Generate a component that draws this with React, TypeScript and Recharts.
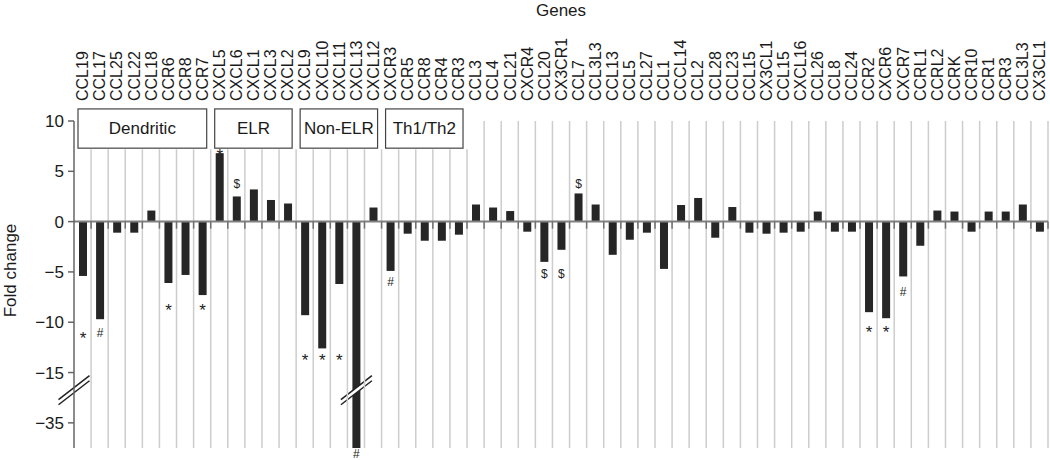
import React from 'react';
import { ComposedChart, Bar, XAxis, YAxis, ReferenceLine, ReferenceArea } from 'recharts';

// ---- data ----
const genes = [
  'CCL19', 'CCL17', 'CCL25', 'CCL22', 'CCL18', 'CCR6', 'CCR8', 'CCR7',
  'CXCL5', 'CXCL6', 'CXCL1', 'CXCL3', 'CXCL2',
  'CXCL9', 'CXCL10', 'CXCL11', 'CXCL13', 'CXCL12',
  'CXCR3', 'CCR5', 'CCR8', 'CCR4', 'CCR3',
  'CCL3', 'CCL4', 'CCL21', 'CXCR4', 'CCL20', 'CX3CR1', 'CCL7', 'CCL3L3', 'CCL13', 'CCL5',
  'CCL27', 'CCL1', 'CCCL14', 'CCL2', 'CCL28', 'CCL23', 'CCL15', 'CX3CL1', 'CCL15', 'CXCL16',
  'CCL26', 'CCL8', 'CCL24', 'CCR2', 'CXCR6', 'CXCR7', 'CCRL1', 'CCRL2', 'CCRK', 'CCR10',
  'CCR1', 'CCR3', 'CCL3L3', 'CX3CL1',
];

const foldChange = [
  -5.4, -9.7, -1.1, -1.1, 1.1, -6.1, -5.3, -7.3,
  6.8, 2.5, 3.2, 2.15, 1.8,
  -9.3, -12.6, -6.2, -45, 1.4,
  -4.9, -1.2, -1.9, -1.9, -1.3,
  1.7, 1.4, 1.05, -1.0, -4.0, -2.8, 2.8, 1.7, -3.3, -1.8,
  -1.1, -4.7, 1.65, 2.35, -1.6, 1.45, -1.1, -1.2, -1.1, -1.0,
  1.0, -1.0, -1.0, -9.0, -9.6, -5.45, -2.4, 1.1, 1.0, -1.0,
  1.0, 1.0, 1.7, -1.0,
];

const marks = [
  '*', '#', '', '', '', '*', '', '*',
  '*', '$', '', '', '',
  '*', '*', '*', '#', '',
  '#', '', '', '', '',
  '', '', '', '', '$', '$', '$', '', '', '',
  '', '', '', '', '', '', '', '', '', '',
  '', '', '', '*', '*', '#', '', '', '', '',
  '', '', '', '',
];

const markLevels: (number | null)[] = [
  -11.1, -11.1, null, null, null, -8.3, null, -8.3,
  7.1, 3.8, null, null, null,
  -13.3, -13.3, -13.3, -47.4, null,
  -6.0, null, null, null, null,
  null, null, null, null, -5.2, -5.2, 3.8, null, null, null,
  null, null, null, null, null, null, null, null, null, null,
  null, null, null, -10.5, -10.5, -7.0, null, null, null, null,
  null, null, null, null,
];

const groups = [
  { name: 'Dendritic', from: 0, to: 7 },
  { name: 'ELR', from: 8, to: 12 },
  { name: 'Non-ELR', from: 13, to: 17 },
  { name: 'Th1/Th2', from: 18, to: 22 },
];

const yTickLabels = [10, 5, 0, -5, -10, -15, -35];
const BREAK_AT = -15; // axis is compressed below this value
const BREAK_MARK = -22; // where the break symbol is drawn
const Y_MIN = -45;
const Y_MAX = 10;

// ---- helpers ----
const squash = (v: number) => (v < BREAK_AT ? BREAK_AT + (v - BREAK_AT) / 4 : v);
const unsquash = (t: number) => (t < BREAK_AT ? BREAK_AT + (t - BREAK_AT) * 4 : t);
const fmt = (v: number) => (v < 0 ? '\u2212' + Math.abs(v) : String(v));

const FONT = '"Liberation Sans", Arial, Helvetica, sans-serif';
const keyOf = (i: number) => `g${i}`;

const data = genes.map((gene, i) => ({
  key: keyOf(i),
  gene,
  fc: squash(foldChange[i]),
  mark: marks[i],
  markY: markLevels[i] == null ? null : squash(markLevels[i] as number),
  broken: foldChange[i] < BREAK_AT,
}));

const lastBoxed = groups[groups.length - 1].to;

const breakSymbol = (cx: number, cy: number, halfCover: number) => {
  const m = -24 / 31;
  const off = 2.6;
  const L = 15.5;
  const ya = (x: number) => cy - off + m * (x - cx);
  const yb = (x: number) => cy + off + m * (x - cx);
  const x0 = cx - halfCover;
  const x1 = cx + halfCover;
  return (
    <g>
      <polygon
        points={`${x0},${ya(x0)} ${x1},${ya(x1)} ${x1},${yb(x1)} ${x0},${yb(x0)}`}
        fill="#ffffff"
      />
      <line x1={cx - L} y1={ya(cx - L)} x2={cx + L} y2={ya(cx + L)} stroke="#222" strokeWidth={1.5} />
      <line x1={cx - L} y1={yb(cx - L)} x2={cx + L} y2={yb(cx + L)} stroke="#222" strokeWidth={1.5} />
    </g>
  );
};

const BarShape = (props: any) => {
  const { x, y, width, height, payload } = props;
  const v = payload.fc;
  const top = Math.min(y, y + height);
  const h = Math.abs(height);
  const zeroPx = v >= 0 ? top + h : top;
  const k = h / Math.abs(v);
  const cx = x + width / 2;
  const toPx = (d: number) => zeroPx - d * k;
  const star = payload.mark === '*';
  return (
    <g>
      <rect x={x} y={top} width={width} height={h} fill="#262626" />
      {payload.broken ? breakSymbol(cx, toPx(squash(BREAK_MARK)), width / 2 + 1) : null}
      {payload.mark ? (
        <text
          x={cx}
          y={toPx(payload.markY)}
          dy={star ? '0.62em' : '0.35em'}
          textAnchor="middle"
          fontSize={star ? 17 : 12}
          fontFamily={FONT}
          fill="#222"
        >
          {payload.mark}
        </text>
      ) : null}
    </g>
  );
};

const GeneTick = (props: any) => {
  const { x, y, payload } = props;
  const idx = Number(String(payload.value).slice(1));
  return (
    <text
      transform={`translate(${x},${y}) rotate(-90)`}
      x={0}
      y={0}
      dy="0.36em"
      textAnchor="start"
      fontSize={16}
      fontFamily={FONT}
      fill="#1a1a1a"
    >
      {genes[idx]}
    </text>
  );
};

const makeBox = (name: string) => (p: any) => {
  const { x, y, width, height } = p;
  const inset = 4;
  return (
    <g>
      <rect
        x={x + inset}
        y={y}
        width={width - 2 * inset}
        height={height}
        fill="#ffffff"
        stroke="#444"
        strokeWidth={1.2}
      />
      <text
        x={x + width / 2}
        y={y + height / 2}
        dy="0.35em"
        textAnchor="middle"
        fontSize={17}
        fontFamily={FONT}
        fill="#1a1a1a"
      >
        {name}
      </text>
    </g>
  );
};

const AxisBreak = (p: any) => breakSymbol(p.x1, p.y1, 2.5);

export default function App() {
  return (
    <div style={{ position: 'absolute', left: 0, top: 0, background: '#fff' }}>
      <ComposedChart
        width={1050}
        height={460}
        data={data}
        margin={{ top: 21, right: 2, bottom: 12, left: 0 }}
      >
        <XAxis
          dataKey="key"
          type="category"
          orientation="top"
          axisLine={false}
          tickLine={false}
          tickSize={0}
          tickMargin={20}
          height={100}
          interval={0}
          tick={<GeneTick />}
          label={{ value: 'Genes', position: 'top', offset: 5, fontSize: 17, fill: '#1a1a1a', fontFamily: FONT }}
        />
        <YAxis
          type="number"
          domain={[squash(Y_MIN), Y_MAX]}
          ticks={yTickLabels.map(squash)}
          tickFormatter={(t: number) => fmt(unsquash(t))}
          width={74}
          tickSize={6}
          tickMargin={4}
          axisLine={{ stroke: '#666', strokeWidth: 1.5 }}
          tickLine={{ stroke: '#666', strokeWidth: 1.5 }}
          tick={{ fontSize: 17, fill: '#1a1a1a', fontFamily: FONT }}
          label={{
            content: (lp: any) => {
              const vb = lp.viewBox || {};
              const cx = (vb.x || 0) + 10;
              const cy = (vb.y || 0) + (vb.height || 0) / 2 - 14;
              return (
                <text
                  x={cx}
                  y={cy}
                  transform={`rotate(-90, ${cx}, ${cy})`}
                  textAnchor="middle"
                  dy="0.35em"
                  fontSize={17}
                  fontFamily={FONT}
                  fill="#1a1a1a"
                >
                  Fold change
                </text>
              );
            },
          }}
        />
        {data.map((d, i) => (
          <ReferenceLine
            key={`grid-${i}`}
            segment={[
              { x: d.key, y: squash(Y_MIN) },
              { x: d.key, y: i <= lastBoxed ? 7.2 : Y_MAX },
            ]}
            position="end"
            stroke="#cdcdcd"
            strokeWidth={1.5}
          />
        ))}
        <ReferenceLine y={0} stroke="#808080" strokeWidth={2} />
        {data.map((d, i) => (
          <ReferenceLine
            key={`tick-${i}`}
            segment={[
              { x: d.key, y: 0 },
              { x: d.key, y: -0.7 },
            ]}
            position="end"
            stroke="#707070"
            strokeWidth={1.5}
          />
        ))}
        <ReferenceLine y={squash(BREAK_MARK)} shape={AxisBreak} />
        {groups.map((g) => (
          <ReferenceArea
            key={g.name}
            x1={keyOf(g.from)}
            x2={keyOf(g.to)}
            y1={7.3}
            y2={11.2}
            ifOverflow="visible"
            shape={makeBox(g.name)}
          />
        ))}
        <Bar dataKey="fc" barSize={8} isAnimationActive={false} shape={BarShape} />
      </ComposedChart>
    </div>
  );
}
